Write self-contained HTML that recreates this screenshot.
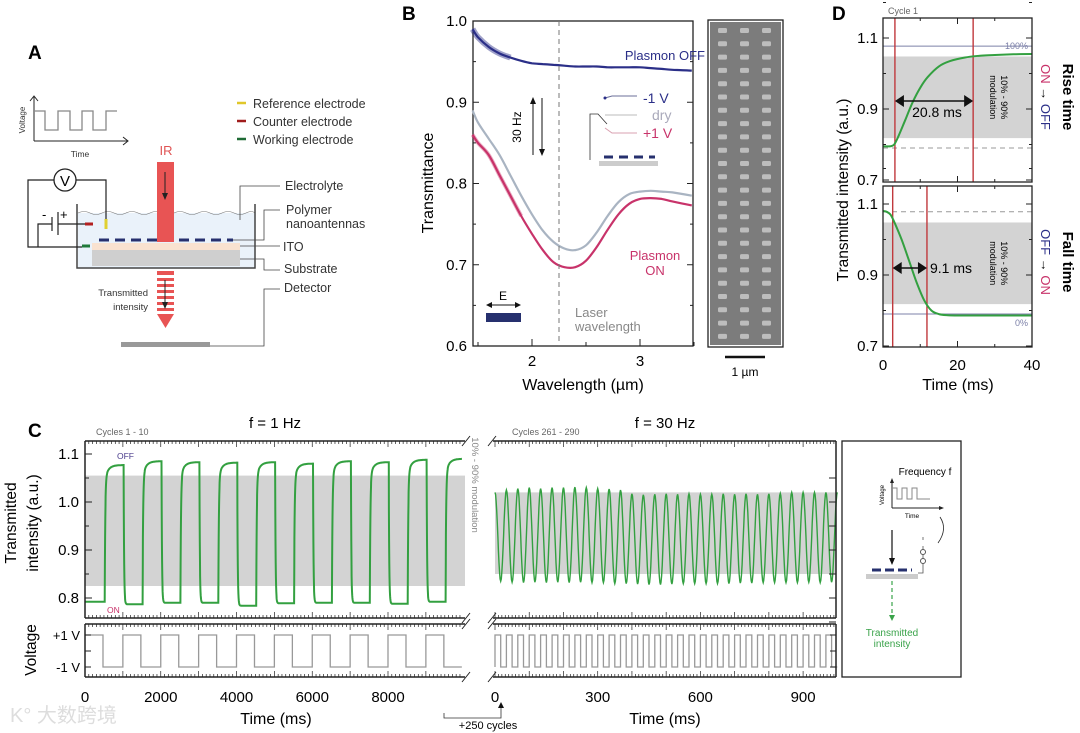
<!DOCTYPE html>
<html><head><meta charset="utf-8"><style>
html,body{margin:0;padding:0;background:#fff;}
svg{display:block;font-family:"Liberation Sans","Noto Sans CJK SC",sans-serif;}
</style></head><body>
<svg id="fig" width="1080" height="733" viewBox="0 0 1080 733">
<rect width="1080" height="733" fill="#fff"/>

<!-- Panel A -->
<g>
<text x="28" y="59" font-size="19" font-weight="bold">A</text>
<g fill="none">
<line x1="34" y1="141" x2="34" y2="97" stroke="#222" stroke-width="1"/>
<path d="M30,101 L34,96 L38,101" stroke="#222"/>
<line x1="34" y1="141" x2="127" y2="141" stroke="#222"/>
<path d="M123,137 L128,141 L123,145" stroke="#222"/>
<path d="M34,111 H45 V130 H58 V111 H70 V130 H82 V111 H93 V130 H106 V111 H117" stroke="#888" stroke-width="1.3"/>
<text x="25" y="120" font-size="8" fill="#333" transform="rotate(-90 25 120)" text-anchor="middle">Voltage</text>
<text x="80" y="157" font-size="8.5" fill="#333" text-anchor="middle">Time</text>
</g>
<g font-size="12.5" fill="#333">
<line x1="237" y1="103" x2="246" y2="103" stroke="#e0c72a" stroke-width="2.5"/><text x="253" y="108">Reference electrode</text>
<line x1="237" y1="121" x2="246" y2="121" stroke="#a01c1c" stroke-width="2.5"/><text x="253" y="126">Counter electrode</text>
<line x1="237" y1="139" x2="246" y2="139" stroke="#1f6b35" stroke-width="2.5"/><text x="253" y="144">Working electrode</text>
</g>
<g>
<rect x="78" y="213" width="177" height="55" fill="#eaf2fa"/>
<path d="M78,213 q6,-3 12,0 t12,0 t12,0 t12,0 t12,0 t12,0 t12,0 t12,0 t12,0 t12,0 t12,0 t12,0 t12,0 t12,0 t9,0" fill="none" stroke="#777" stroke-width="0.6"/>
<rect x="92" y="243" width="148" height="7" fill="#f9e2d0"/>
<rect x="92" y="250" width="148" height="16" fill="#cfcfcf"/>
<path d="M77,204 V268 H255 V204" fill="none" stroke="#444" stroke-width="1.5"/>
<line x1="99" y1="240" x2="233" y2="240" stroke="#26306e" stroke-width="3" stroke-dasharray="10,6"/>
<rect x="157" y="162" width="17" height="80" fill="#e85454"/>
<text x="166" y="155" font-size="13" fill="#e05555" text-anchor="middle">IR</text>
<line x1="165" y1="172" x2="165" y2="197" stroke="#222"/><path d="M162,193 L165,200 L168,193 Z" fill="#222"/>
<g fill="#e85454"><rect x="157" y="271" width="17" height="4"/><rect x="157" y="278" width="17" height="3"/><rect x="157" y="284" width="17" height="3"/><rect x="157" y="290" width="17" height="3"/><rect x="157" y="296" width="17" height="3"/><rect x="157" y="302" width="17" height="3"/><rect x="157" y="308" width="17" height="3"/><path d="M157,314 H174 L165.5,328 Z"/></g>
<line x1="165" y1="280" x2="165" y2="306" stroke="#222"/><path d="M162,302 L165,309 L168,302 Z" fill="#222"/>
<text x="148" y="296" font-size="9.5" fill="#333" text-anchor="end">Transmitted</text>
<text x="148" y="310" font-size="9.5" fill="#333" text-anchor="end">intensity</text>
<rect x="121" y="342" width="89" height="5" fill="#999"/>
<line x1="85" y1="224" x2="93" y2="224" stroke="#b32020" stroke-width="3"/>
<line x1="106" y1="219" x2="106" y2="229" stroke="#e0d030" stroke-width="3"/>
<line x1="82" y1="246" x2="90" y2="246" stroke="#1f7a3a" stroke-width="3"/>
<circle cx="65" cy="180" r="11" fill="#fff" stroke="#222" stroke-width="1.3"/>
<text x="65" y="186" font-size="15" text-anchor="middle">V</text>
<path d="M54,180 H28 V247 H82 M76,180 H106 V219" fill="none" stroke="#222" stroke-width="1.2"/>
<path d="M38,247 V224 H52 M58,224 H85" fill="none" stroke="#222" stroke-width="1.2"/>
<line x1="52" y1="217" x2="52" y2="231" stroke="#222" stroke-width="1.2"/><line x1="58" y1="212" x2="58" y2="235" stroke="#222" stroke-width="1.2"/>
<text x="42" y="219" font-size="13">-</text><text x="60" y="219" font-size="13">+</text>
</g>
<g font-size="12.5" fill="#333">
<path d="M240,220 V186 H280 M233,240 H264 V210 H280 M240,246 H280 M240,259 H264 V270 H280 M210,346 H264 V289 H280" fill="none" stroke="#444" stroke-width="0.8"/>
<text x="285" y="190">Electrolyte</text>
<text x="286" y="214">Polymer</text><text x="286" y="228">nanoantennas</text>
<text x="283" y="251">ITO</text><text x="284" y="273">Substrate</text><text x="284" y="292">Detector</text>
</g>
</g>

<!-- Panel B static -->
<g>
<text x="402" y="20" font-size="19" font-weight="bold">B</text>
<rect x="473" y="21" width="220" height="325" fill="none" stroke="#222" stroke-width="1.3"/>
<text x="433" y="183" font-size="16" text-anchor="middle" transform="rotate(-90 433 183)">Transmittance</text>
<text x="583" y="390" font-size="16" text-anchor="middle">Wavelength (µm)</text>
<g id="bticks"></g>
<g id="bseries"></g>
<line x1="559" y1="21" x2="559" y2="346" stroke="#777" stroke-dasharray="5,4"/>
<text x="705" y="60" font-size="13" fill="#2b2f88" text-anchor="end">Plasmon OFF</text>
<text x="655" y="260" font-size="13" fill="#c8336a" text-anchor="middle">Plasmon</text>
<text x="655" y="275" font-size="13" fill="#c8336a" text-anchor="middle">ON</text>
<text x="575" y="317" font-size="13" fill="#888">Laser</text>
<text x="575" y="331" font-size="13" fill="#888">wavelength</text>
<g>
<line x1="533" y1="100" x2="533" y2="155" stroke="#111"/><path d="M530,104 L533,97 L536,104Z" fill="#111"/>
<line x1="542" y1="98" x2="542" y2="153" stroke="#111"/><path d="M539,149 L542,156 L545,149Z" fill="#111"/>
<text x="521" y="127" font-size="12" text-anchor="middle" transform="rotate(-90 521 127)">30 Hz</text>
</g>
<g>
<path d="M605,98 L612,96 H637" fill="none" stroke="#6b6f9a"/><circle cx="605" cy="98" r="1.5" fill="#2b2f88"/>
<path d="M605,115 H637" stroke="#bbb"/><path d="M605,128 L612,133 H637" fill="none" stroke="#d9a0b0"/>
<path d="M590,160 V114 H598 L607,124" fill="none" stroke="#333" stroke-width="0.8"/>
<line x1="604" y1="157" x2="655" y2="157" stroke="#26306e" stroke-width="3" stroke-dasharray="9,6"/>
<rect x="599" y="161" width="59" height="5" fill="#ccc"/>
<text x="643" y="103" font-size="14" fill="#2b2f88">-1 V</text>
<text x="652" y="120" font-size="14" fill="#aab">dry</text>
<text x="643" y="138" font-size="14" fill="#c8336a">+1 V</text>
</g>
<g>
<line x1="488" y1="305" x2="519" y2="305" stroke="#111"/><path d="M492,302 L486,305 L492,308Z M515,302 L521,305 L515,308Z" fill="#111"/>
<text x="503" y="300" font-size="12" text-anchor="middle">E</text>
<rect x="486" y="313" width="35" height="9" fill="#26306e"/>
</g>
<g>
<rect x="708" y="20" width="75" height="327" fill="#fff" stroke="#222" stroke-width="1.3"/>
<rect x="710" y="22" width="71" height="323" fill="#7c7c7c"/>
<g id="sem"></g>
<line x1="725" y1="357" x2="765" y2="357" stroke="#111" stroke-width="2.5"/>
<text x="745" y="376" font-size="12" text-anchor="middle">1 µm</text>
</g>
</g>

<!-- Panel D static -->
<g>
<text x="832" y="20" font-size="19" font-weight="bold">D</text>
<text x="888" y="14" font-size="9" fill="#666">Cycle 1</text>
<g id="dplots"></g>
<text x="848" y="190" font-size="15.5" text-anchor="middle" transform="rotate(-90 848 190)">Transmitted intensity (a.u.)</text>
<text x="958" y="390" font-size="16" text-anchor="middle">Time (ms)</text>
<text x="1063" y="97" font-size="15" font-weight="bold" text-anchor="middle" transform="rotate(90 1063 97)">Rise time</text>
<text x="1041" y="97" font-size="13" text-anchor="middle" transform="rotate(90 1041 97)"><tspan fill="#c8336a">ON</tspan> → <tspan fill="#2b2f88">OFF</tspan></text>
<text x="1063" y="262" font-size="15" font-weight="bold" text-anchor="middle" transform="rotate(90 1063 262)">Fall time</text>
<text x="1041" y="262" font-size="13" text-anchor="middle" transform="rotate(90 1041 262)"><tspan fill="#2b2f88">OFF</tspan> → <tspan fill="#c8336a">ON</tspan></text>
</g>

<!-- Panel C static -->
<g>
<text x="28" y="437" font-size="19" font-weight="bold">C</text>
<text x="275" y="428" font-size="15" text-anchor="middle">f = 1 Hz</text>
<text x="665" y="428" font-size="15" text-anchor="middle">f = 30 Hz</text>
<text x="96" y="435" font-size="9" fill="#666">Cycles 1 - 10</text>
<text x="512" y="435" font-size="9" fill="#666">Cycles 261 - 290</text>
<text x="16" y="523" font-size="15.5" text-anchor="middle" transform="rotate(-90 16 523)">Transmitted</text>
<text x="38" y="523" font-size="15.5" text-anchor="middle" transform="rotate(-90 38 523)">intensity (a.u.)</text>
<text x="36" y="650" font-size="15.5" text-anchor="middle" transform="rotate(-90 36 650)">Voltage</text>
<text x="80" y="640" font-size="13" text-anchor="end">+1 V</text>
<text x="80" y="672" font-size="13" text-anchor="end">-1 V</text>
<text x="276" y="724" font-size="16" text-anchor="middle">Time (ms)</text>
<text x="665" y="724" font-size="16" text-anchor="middle">Time (ms)</text>
<text x="117" y="459" font-size="8.5" fill="#4a3c8c">OFF</text>
<text x="107" y="613" font-size="8.5" fill="#c8336a">ON</text>
<g id="cplots"></g>
<path d="M444,713 V718 H501 V705" fill="none" stroke="#333" stroke-width="0.8"/><path d="M498,708 L501,702 L504,708Z" fill="#111"/>
<text x="488" y="729" font-size="11" text-anchor="middle">+250 cycles</text>
<g>
<rect x="842" y="441" width="119" height="236" fill="#fff" stroke="#222" stroke-width="1.3"/>
<text x="925" y="475" font-size="10" text-anchor="middle">Frequency f</text>
<path d="M892,508 V480 M892,508 H942" fill="none" stroke="#222"/><path d="M890,483 L892,478 L894,483Z M939,506 L944,508 L939,510Z" fill="#222"/>
<path d="M892,488 H897 V499 H902 V488 H907 V499 H912 V488 H917 V499 H930" fill="none" stroke="#888"/>
<text x="884" y="495" font-size="6" text-anchor="middle" transform="rotate(-90 884 495)">Voltage</text>
<text x="912" y="518" font-size="6.5" text-anchor="middle">Time</text>
<path d="M940,517 q8,12 -2,26" fill="none" stroke="#222" stroke-width="0.8"/>
<line x1="892" y1="530" x2="892" y2="562" stroke="#111" stroke-width="1.2"/><path d="M889,558 L892,565 L895,558Z" fill="#111"/>
<line x1="872" y1="570" x2="912" y2="570" stroke="#26306e" stroke-width="3" stroke-dasharray="9,4"/>
<rect x="866" y="574" width="52" height="5" fill="#ccc"/>
<path d="M918,573 H923 V546 M923,540 V537" fill="none" stroke="#555" stroke-width="0.8"/>
<circle cx="923" cy="552" r="2.5" fill="#fff" stroke="#555"/><circle cx="923" cy="561" r="2.5" fill="#fff" stroke="#555"/>
<line x1="892" y1="581" x2="892" y2="618" stroke="#3aa34a" stroke-width="1.2" stroke-dasharray="4,3"/><path d="M889,615 L892,621 L895,615Z" fill="#3aa34a"/>
<text x="892" y="636" font-size="10" fill="#3aa34a" text-anchor="middle">Transmitted</text>
<text x="892" y="647" font-size="10" fill="#3aa34a" text-anchor="middle">intensity</text>
</g>
</g>
<text x="10" y="722" font-size="20" fill="#ddd">K° 大数跨境</text>
</svg>
<script>
// ---------- Panel B data ----------
const bWavelength = [1.45,1.5,1.6,1.7,1.8,1.9,2.0,2.1,2.2,2.3,2.4,2.5,2.6,2.7,2.8,2.9,3.0,3.1,3.2,3.3,3.48];
const bOff = [0.99,0.98,0.968,0.96,0.955,0.951,0.948,0.947,0.946,0.945,0.944,0.944,0.944,0.943,0.943,0.943,0.943,0.942,0.941,0.94,0.939];
const bDry = [0.89,0.875,0.855,0.835,0.81,0.785,0.762,0.742,0.728,0.72,0.718,0.724,0.74,0.76,0.777,0.787,0.79,0.791,0.79,0.789,0.785];
const bOn  = [0.86,0.85,0.835,0.81,0.785,0.76,0.738,0.718,0.703,0.697,0.697,0.705,0.722,0.743,0.762,0.775,0.781,0.782,0.781,0.778,0.773];
const bYTicks = [0.6,0.7,0.8,0.9,1.0];
const bXTicks = [2,3];
// ---------- Panel C data ----------
const c1OffLevels = [1.077,1.085,1.083,1.082,1.083,1.08,1.085,1.083,1.088,1.09];
const c1OnLevels  = [0.792,0.787,0.79,0.79,0.784,0.789,0.79,0.79,0.788,0.792];
const c30Peaks   = [1.02,1.025,1.028,1.03,1.028,1.03,1.03,1.031,1.03,1.028,1.027,1.025,1.017,1.015,1.016,1.017,1.016,1.017,1.016,1.016,1.017,1.016,1.017,1.016,1.017,1.018,1.02,1.02,1.02,1.02];
const c30Troughs = [0.835,0.833,0.832,0.833,0.832,0.833,0.832,0.833,0.832,0.832,0.83,0.83,0.829,0.828,0.828,0.829,0.83,0.83,0.83,0.83,0.83,0.831,0.831,0.832,0.832,0.832,0.832,0.833,0.832,0.833];
const cYTicks = [0.8,0.9,1.0,1.1];
const cXTicksLeft = [0,2000,4000,6000,8000];
const cXTicksRight = [0,300,600,900];
const cBandLeft = [0.825,1.055];
const cBandRight = [0.85,1.02];
// ---------- Panel D data ----------
const dRiseT = [0,2,3,4,6,8,10,12,15,18,22,26,30,35,40];
const dRiseV = [0.795,0.795,0.80,0.82,0.87,0.92,0.96,0.99,1.02,1.035,1.045,1.05,1.052,1.054,1.055];
const dFallT = [0,1,2,3,5,7,9,11,13,15,17,20,25,30,40];
const dFallV = [1.08,1.078,1.07,1.05,1.0,0.94,0.88,0.83,0.80,0.79,0.787,0.786,0.786,0.786,0.786];
const dRiseMarks = [3.2,24.2];
const dFallMarks = [2.6,11.8];
const dBand = [0.818,1.048];
const dYTicks = [0.7,0.9,1.1];
const dXTicks = [0,20,40];

const NS='http://www.w3.org/2000/svg';
function mk(tag, attrs, parent){const e=document.createElementNS(NS,tag);for(const k in attrs)e.setAttribute(k,attrs[k]);parent.appendChild(e);return e;}
function txt(x,y,s,size,anchor,parent){const t=mk('text',{x:x,y:y,'font-size':size,'text-anchor':anchor},parent);t.textContent=s;return t;}
function smoothPath(pts){let d='M'+pts[0][0].toFixed(1)+','+pts[0][1].toFixed(1);
 for(let i=0;i<pts.length-1;i++){const p0=pts[Math.max(0,i-1)],p1=pts[i],p2=pts[i+1],p3=pts[Math.min(pts.length-1,i+2)];
 d+=' C'+(p1[0]+(p2[0]-p0[0])/6).toFixed(1)+','+(p1[1]+(p2[1]-p0[1])/6).toFixed(1)+' '+(p2[0]-(p3[0]-p1[0])/6).toFixed(1)+','+(p2[1]-(p3[1]-p1[1])/6).toFixed(1)+' '+p2[0].toFixed(1)+','+p2[1].toFixed(1);}
 return d;}

// ---- Panel B ----
const bx=w=>532+(w-2)*108, by=v=>21+(1.0-v)*812.5;
const bt=document.getElementById('bticks');
bYTicks.forEach(v=>{
 const t=txt(467,by(v)+5,v.toFixed(1),15,'end',bt);
 
 
 mk('line',{x1:473,y1:by(v),x2:479,y2:by(v),stroke:'#222'},bt);
 mk('line',{x1:693,y1:by(v),x2:687,y2:by(v),stroke:'#222'},bt);
 mk('line',{x1:473,y1:by(v+0.05),x2:476,y2:by(v+0.05),stroke:'#222'},bt);
 mk('line',{x1:693,y1:by(v+0.05),x2:690,y2:by(v+0.05),stroke:'#222'},bt);
});
bXTicks.forEach(w=>{
 const t=txt(bx(w),366,String(w),15,'middle',bt);
 
 
 mk('line',{x1:bx(w),y1:346,x2:bx(w),y2:339,stroke:'#222'},bt);
 mk('line',{x1:bx(w)-54,y1:346,x2:bx(w)-54,y2:342,stroke:'#222'},bt);
 mk('line',{x1:bx(w)+54,y1:346,x2:bx(w)+54,y2:342,stroke:'#222'},bt);
});
const bs=document.getElementById('bseries');
[[bDry,'#a9b4c2',2.2,'spectrum-dry'],[bOn,'#c8336a',2.2,'spectrum-plasmon-on'],[bOff,'#2b2f88',2.2,'spectrum-plasmon-off']].forEach(s=>{
 const pts=bWavelength.map((w,i)=>[bx(w),by(s[0][i])]);
 const p=mk('path',{d:smoothPath(pts),fill:'none',stroke:s[1],'stroke-width':s[2]},bs);
 
 
});
mk('path',{d:smoothPath(bWavelength.slice(0,5).map((w,i)=>[bx(w),by(bOff[i])])),fill:'none',stroke:'#2b2f88','stroke-width':6,'stroke-opacity':0.45},bs);
mk('path',{d:smoothPath(bWavelength.slice(0,6).map((w,i)=>[bx(w),by(bOn[i])])),fill:'none',stroke:'#c8336a','stroke-width':4,'stroke-opacity':0.4},bs);
const sem=document.getElementById('sem');
for(let r=0;r<24;r++)for(let c=0;c<3;c++){mk('rect',{x:718+c*22,y:28+r*13.3,width:9,height:5,fill:'#bdbdbd',rx:1.5},sem);}

// ---- Panel D ----
const dp=document.getElementById('dplots');
const dx=t=>883+t*3.725;
function dPanel(top,bottom,ty,tv,marks,dashV,solidV,name,label,arrowY,labelX,labelY){
 const dy=v=>ty(v);
 const band=mk('rect',{x:883,y:dy(dBand[1]),width:149,height:dy(dBand[0])-dy(dBand[1]),fill:'#d3d3d3'},dp);
 
 
 mk('line',{x1:883,y1:dy(dashV),x2:1032,y2:dy(dashV),stroke:'#999','stroke-dasharray':'5,4'},dp);
 mk('line',{x1:883,y1:dy(solidV),x2:1032,y2:dy(solidV),stroke:'#7c80a8'},dp);
 marks.forEach(m=>{
  const l=mk('line',{x1:dx(m),y1:top,x2:dx(m),y2:bottom,stroke:'#c0393d','stroke-width':1.4},dp);
  
  
 });
 const c=mk('path',{d:smoothPath(tv[0].map((t,i)=>[dx(t),dy(tv[1][i])])),fill:'none',stroke:'#33a040','stroke-width':2},dp);
 
 
 mk('line',{x1:dx(marks[0])+8,y1:arrowY,x2:dx(marks[1])-8,y2:arrowY,stroke:'#111','stroke-width':1.5},dp);
 mk('path',{d:`M${dx(marks[0])},${arrowY} l9,-6 v12z M${dx(marks[1])},${arrowY} l-9,-6 v12z`,fill:'#111'},dp);
 txt(labelX,labelY,label,14,'middle',dp);
 const cyv=(dy(dBand[0])+dy(dBand[1]))/2;
 const mt=mk('text',{x:1001,y:cyv,'font-size':9,'text-anchor':'middle',transform:`rotate(90 1001 ${cyv})`},dp);
 mt.textContent='10% - 90%';
 const mt2=mk('text',{x:990,y:cyv,'font-size':9,'text-anchor':'middle',transform:`rotate(90 990 ${cyv})`},dp);
 mt2.textContent='modulation';
 dYTicks.forEach(v=>{
  const t=txt(878,dy(v)+5,v.toFixed(1),15,'end',dp);
  
  
  [[883,889],[1032,1026]].forEach(a=>mk('line',{x1:a[0],y1:dy(v),x2:a[1],y2:dy(v),stroke:'#222'},dp));
  [[883,886],[1032,1029]].forEach(a=>mk('line',{x1:a[0],y1:dy(v+0.1),x2:a[1],y2:dy(v+0.1),stroke:'#222'},dp));
 });
 dXTicks.forEach(t=>{mk('line',{x1:dx(t),y1:bottom,x2:dx(t),y2:bottom-6,stroke:'#222'},dp);mk('line',{x1:dx(t),y1:top,x2:dx(t),y2:top+6,stroke:'#222'},dp);});
 [10,30].forEach(t=>{mk('line',{x1:dx(t),y1:bottom,x2:dx(t),y2:bottom-3,stroke:'#222'},dp);mk('line',{x1:dx(t),y1:top,x2:dx(t),y2:top+3,stroke:'#222'},dp);});
 mk('rect',{x:883,y:top,width:149,height:bottom-top,fill:'none',stroke:'#222','stroke-width':1.3},dp);
}
dPanel(18,182,v=>109+(0.9-v)*355,[dRiseT,dRiseV],dRiseMarks,0.79,1.077,'rise','20.8 ms',101,937,117);
dPanel(186,347,v=>275+(0.9-v)*355,[dFallT,dFallV],dFallMarks,1.078,0.79,'fall','9.1 ms',268,951,273);
const p100=txt(1028,49,'100%',9,'end',dp);p100.setAttribute('fill','#7c80a8');
const p0=txt(1028,326,'0%',9,'end',dp);p0.setAttribute('fill','#7c80a8');
dXTicks.forEach(t=>{
 const l=txt(dx(t),370,String(t),15,'middle',dp);
 
 
});

// ---- Panel C ----
const cp=document.getElementById('cplots');
const cy=v=>454+(1.1-v)*480;
const xL=t=>85+t*75.75/2000, xR=t=>495+t*102.7/300;
const vy=s=>s>0?635:667;
const bl=mk('rect',{x:85,y:cy(cBandLeft[1]),width:380,height:cy(cBandLeft[0])-cy(cBandLeft[1]),fill:'#d3d3d3'},cp);


const br=mk('rect',{x:495,y:cy(cBandRight[1]),width:341,height:cy(cBandRight[0])-cy(cBandRight[1]),fill:'#d3d3d3'},cp);


const mod=mk('text',{x:472,y:485,'font-size':9.5,fill:'#888','text-anchor':'middle',transform:'rotate(90 472 485)'},cp);
mod.textContent='10% - 90% modulation';
let d1='';
for(let k=0;k<10;k++){
 const onStart=k*1000+20, offStart=k*1000+520;
 for(let t=k*1000;t<(k+1)*1000&&t<=9950;t+=5){
  let v;
  if(t<offStart){const from=k===0?c1OnLevels[0]:c1OffLevels[k-1];const dt=Math.max(0,t-(k===0?0:onStart));v=c1OnLevels[k]+(from-c1OnLevels[k])*Math.exp(-dt/12);}
  else{const dt=t-offStart;v=c1OffLevels[k]-0.03*Math.exp(-dt/90)+(c1OnLevels[k]-c1OffLevels[k]+0.03)*Math.exp(-dt/14);}
  d1+=(d1?' L':'M')+xL(t).toFixed(1)+','+cy(v).toFixed(1);
 }
}
const tr1=mk('path',{d:d1,fill:'none',stroke:'#33a040','stroke-width':2},cp);


const P=1000/30;let d30='';
for(let k=0;k<30;k++){
 for(let j=0;j<=20;j++){
  const f=j/20, t=k*P+f*P;let v;
  if(f<=0.5){const u=f/0.5;v=c30Troughs[k]+(c30Peaks[k]-c30Troughs[k])*(1+Math.cos(Math.PI*u))/2;}
  else{const u=(f-0.5)/0.5;const nx=k<29?c30Peaks[k+1]:c30Peaks[k];v=c30Troughs[k]+(nx-c30Troughs[k])*(1-Math.cos(Math.PI*u))/2;}
  d30+=(d30?' L':'M')+xR(t).toFixed(1)+','+cy(v).toFixed(1);
 }
}
const tr30=mk('path',{d:d30,fill:'none',stroke:'#33a040','stroke-width':1.4},cp);


let dv='M'+xL(0)+','+vy(1);
for(let k=0;k<10;k++){const b=k*1000+475,c=(k+1)*1000;dv+=' H'+xL(b)+' V'+vy(-1)+' H'+xL(Math.min(c,9950))+(k<9?' V'+vy(1):'');}
const v1=mk('path',{d:dv,fill:'none',stroke:'#999','stroke-width':1.3},cp);


let dv3='M'+xR(0)+','+vy(-1)+' V'+vy(1);
for(let k=0;k<30;k++){dv3+=' H'+xR(k*P+P*0.5).toFixed(1)+' V'+vy(-1)+' H'+xR((k+1)*P).toFixed(1)+(k<29?' V'+vy(1):'');}
const v30=mk('path',{d:dv3,fill:'none',stroke:'#999','stroke-width':1.3},cp);


const segs=[[85,465],[493,836]];
[[441,618],[624,677]].forEach(r=>{
 segs.forEach(s=>{mk('line',{x1:s[0],y1:r[0],x2:s[1],y2:r[0],stroke:'#222','stroke-width':1.5},cp);mk('line',{x1:s[0],y1:r[1],x2:s[1],y2:r[1],stroke:'#222','stroke-width':1.5},cp);});
 mk('line',{x1:85,y1:r[0],x2:85,y2:r[1],stroke:'#222','stroke-width':1.5},cp);
 mk('line',{x1:836,y1:r[0],x2:836,y2:r[1],stroke:'#222','stroke-width':1.5},cp);
 [r[0],r[1]].forEach(y=>{mk('path',{d:`M462,${y+5} L470,${y-5} M488,${y+5} L496,${y-5}`,stroke:'#222','stroke-width':1},cp);});
 [r[0],r[1]].forEach((y,i)=>{const dir=i===0?1:-1;
  for(let t=0;t<=9900;t+=100){const L=t%1000===0?6:3;mk('line',{x1:xL(t),y1:y,x2:xL(t),y2:y+dir*L,stroke:'#222','stroke-width':0.7},cp);}
  for(let t=0;t<=990;t+=10){const L=t%100===0?6:3;mk('line',{x1:xR(t),y1:y,x2:xR(t),y2:y+dir*L,stroke:'#222','stroke-width':0.7},cp);}
 });
});
cYTicks.forEach(v=>{
 const t=txt(79,cy(v)+5,v.toFixed(1),15,'end',cp);
 
 
 mk('line',{x1:85,y1:cy(v),x2:92,y2:cy(v),stroke:'#222'},cp);
});
for(let v=0.75;v<=1.1;v+=0.05){mk('line',{x1:836,y1:cy(v),x2:829,y2:cy(v),stroke:'#222'},cp);if(v>0.76)mk('line',{x1:85,y1:cy(v),x2:89,y2:cy(v),stroke:'#222'},cp);}
[635,651,667].forEach(y=>{mk('line',{x1:85,y1:y,x2:91,y2:y,stroke:'#222'},cp);mk('line',{x1:836,y1:y,x2:830,y2:y,stroke:'#222'},cp);});
cXTicksLeft.forEach(t=>{
 const l=txt(xL(t),702,String(t),15,'middle',cp);
 
 
});
cXTicksRight.forEach(t=>{
 const l=txt(xR(t),702,String(t),15,'middle',cp);
 
 
});
</script>
</body></html>
